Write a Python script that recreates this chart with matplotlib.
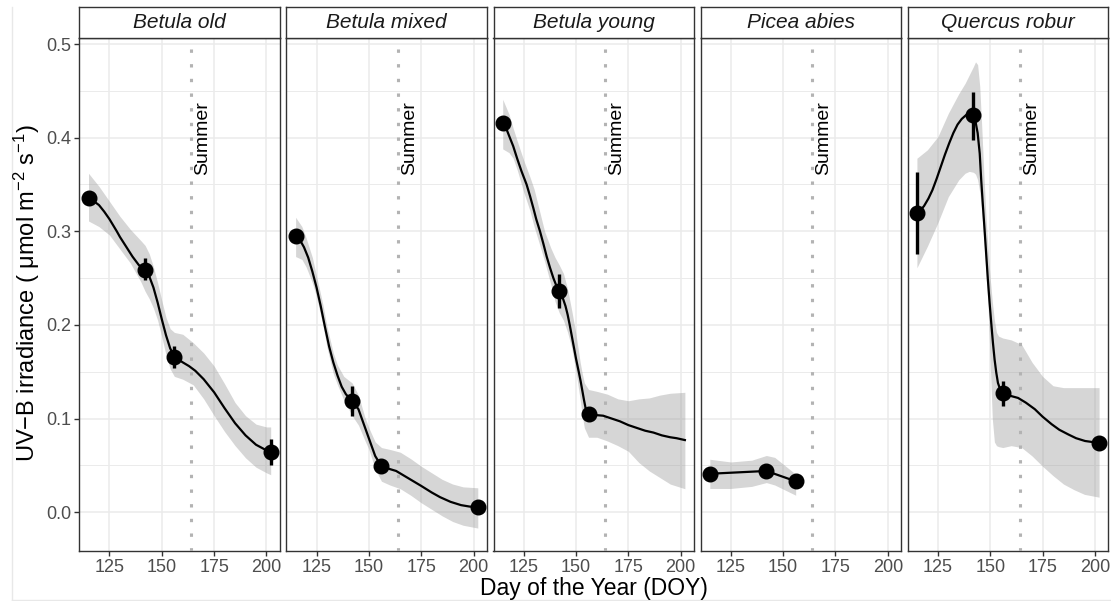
import matplotlib
matplotlib.use("Agg")
import matplotlib.pyplot as plt
from matplotlib.ticker import MultipleLocator
from matplotlib.lines import Line2D

#=================
# data
#=================
panel_names = ["Betula old", "Betula mixed", "Betula young", "Picea abies", "Quercus robur"]

# mean points + error bars
old_day = [115, 142, 156, 202]
old_val = [0.336, 0.259, 0.166, 0.064]
old_lo = [0.331, 0.248, 0.154, 0.050]
old_hi = [0.341, 0.271, 0.178, 0.078]

mixed_day = [115, 142, 156, 202]
mixed_val = [0.295, 0.119, 0.049, 0.005]
mixed_lo = [0.290, 0.103, 0.045, 0.001]
mixed_hi = [0.299, 0.135, 0.054, 0.009]

young_day = [115, 142, 156]
young_val = [0.416, 0.236, 0.105]
young_lo = [0.411, 0.218, 0.100]
young_hi = [0.421, 0.254, 0.110]

picea_day = [115, 142, 156]
picea_val = [0.041, 0.044, 0.033]
picea_lo = [0.036, 0.040, 0.027]
picea_hi = [0.045, 0.048, 0.039]

quercus_day = [115, 142, 156, 202]
quercus_val = [0.320, 0.424, 0.127, 0.074]
quercus_lo = [0.276, 0.398, 0.113, 0.070]
quercus_hi = [0.363, 0.449, 0.140, 0.079]

# smooth fit lines
old_fit_x = [115, 117, 120, 122.5, 125, 128.5, 130, 132, 134, 136, 139, 142, 144, 146,
             148, 150, 152, 154, 156, 158, 160, 163, 166, 170, 175, 180, 185, 190,
             195, 200, 202]
old_fit_y = [0.336, 0.333, 0.328, 0.321, 0.313, 0.300, 0.294, 0.287, 0.280, 0.273,
             0.264, 0.259, 0.252, 0.240, 0.224, 0.206, 0.189, 0.175, 0.166, 0.163,
             0.160, 0.156, 0.151, 0.142, 0.128, 0.111, 0.095, 0.082, 0.072, 0.066,
             0.064]

mixed_fit_x = [115, 117, 119, 121, 123, 125, 127, 129, 131, 133, 135, 137, 139, 141,
               142, 145, 149, 153, 156, 160, 163, 169, 175, 180, 184, 189, 194, 198,
               202]
mixed_fit_y = [0.295, 0.291, 0.283, 0.272, 0.257, 0.240, 0.220, 0.198, 0.177, 0.160,
               0.146, 0.134, 0.126, 0.121, 0.119, 0.110, 0.085, 0.060, 0.049, 0.046,
               0.044, 0.036, 0.028, 0.021, 0.016, 0.011, 0.0075, 0.006, 0.005]

young_fit_x = [115, 117, 118.4, 120, 122, 124, 126.4, 128, 129.6, 131, 132.8, 134.5,
               136, 137.6, 139.2, 140.6, 142, 143.5, 145, 146, 147, 148, 149, 150,
               151.3, 152.2, 153, 153.8, 154.5, 155.3, 156, 158, 163, 167, 171, 175,
               179, 183, 187, 191, 195, 198, 202]
young_fit_y = [0.416, 0.408, 0.400, 0.391, 0.377, 0.364, 0.350, 0.338, 0.325, 0.313,
               0.300, 0.286, 0.273, 0.261, 0.250, 0.242, 0.236, 0.230, 0.220, 0.211,
               0.200, 0.188, 0.176, 0.164, 0.150, 0.140, 0.130, 0.120, 0.112, 0.107,
               0.105, 0.104, 0.103, 0.100, 0.097, 0.093, 0.090, 0.087, 0.085, 0.082,
               0.080, 0.079, 0.077]

picea_fit_x = [115, 142, 156]
picea_fit_y = [0.041, 0.044, 0.033]

quercus_fit_x = [115, 116.5, 118.4, 120.5, 122.4, 124.4, 126.4, 128.4, 130.4, 132.4,
                 134.4, 136.4, 138.4, 140.2, 142, 143, 144, 145, 145.7, 146.5, 147.3,
                 148.1, 148.9, 149.7, 150.5, 151.3, 152.1, 152.9, 153.7, 154.8, 156,
                 158, 160, 163.3, 167, 171.3, 175, 179.3, 183, 187.3, 191, 195.3,
                 198.5, 202]
quercus_fit_y = [0.320, 0.322, 0.327, 0.335, 0.344, 0.356, 0.369, 0.382, 0.394, 0.405,
                 0.414, 0.420, 0.424, 0.426, 0.424, 0.417, 0.405, 0.383, 0.355, 0.328,
                 0.302, 0.275, 0.248, 0.224, 0.202, 0.181, 0.163, 0.149, 0.138, 0.131,
                 0.127, 0.125, 0.124, 0.122, 0.117, 0.110, 0.102, 0.094, 0.088, 0.083,
                 0.079, 0.076, 0.075, 0.074]

# confidence ribbons
old_band_x = [115, 120, 125, 130, 135, 140, 142, 144, 146, 148, 150, 152, 154, 156,
              160, 165, 170, 175, 180, 185, 190, 195, 200, 202]
old_band_lo = [0.311, 0.305, 0.296, 0.281, 0.266, 0.246, 0.236, 0.228, 0.218, 0.205,
               0.187, 0.168, 0.153, 0.145, 0.142, 0.136, 0.121, 0.103, 0.086, 0.071,
               0.058, 0.048, 0.042, 0.040]
old_band_hi = [0.362, 0.348, 0.332, 0.316, 0.302, 0.290, 0.285, 0.276, 0.262, 0.245,
               0.226, 0.208, 0.196, 0.192, 0.190, 0.181, 0.170, 0.156, 0.137, 0.117,
               0.103, 0.094, 0.091, 0.091]

mixed_band_x = [115, 118, 120, 123, 125, 128, 130, 133, 135, 138, 142, 145, 148, 150,
                153, 156, 160, 165, 170, 175, 180, 185, 190, 195, 202]
mixed_band_lo = [0.273, 0.270, 0.262, 0.245, 0.230, 0.200, 0.176, 0.148, 0.136, 0.120,
                 0.103, 0.093, 0.077, 0.067, 0.046, 0.033, 0.029, 0.025, 0.018, 0.010,
                 0.003, -0.004, -0.010, -0.014, -0.017]
mixed_band_hi = [0.315, 0.305, 0.293, 0.272, 0.252, 0.222, 0.198, 0.170, 0.157, 0.145,
                 0.138, 0.125, 0.102, 0.090, 0.075, 0.069, 0.067, 0.064, 0.057, 0.049,
                 0.042, 0.035, 0.030, 0.027, 0.026]

young_band_x = [115, 118, 120, 122, 125, 128, 130, 133, 135, 138, 140, 142, 144, 146,
                148, 150, 152, 153, 154, 156, 160, 165, 170, 175, 180, 185, 190, 195,
                202]
young_band_lo = [0.388, 0.384, 0.378, 0.365, 0.342, 0.322, 0.305, 0.283, 0.268, 0.243,
                 0.225, 0.213, 0.205, 0.192, 0.175, 0.150, 0.120, 0.103, 0.090, 0.080,
                 0.080, 0.076, 0.071, 0.065, 0.053, 0.044, 0.037, 0.030, 0.025]
young_band_hi = [0.441, 0.425, 0.410, 0.396, 0.376, 0.358, 0.345, 0.318, 0.300, 0.282,
                 0.272, 0.264, 0.255, 0.238, 0.215, 0.190, 0.160, 0.148, 0.138, 0.131,
                 0.129, 0.126, 0.121, 0.119, 0.121, 0.122, 0.125, 0.127, 0.128]

picea_band_x = [115, 125, 135, 142, 146, 156]
picea_band_lo = [0.0253, 0.0253, 0.0275, 0.0316, 0.0290, 0.0181]
picea_band_hi = [0.0565, 0.0536, 0.0555, 0.0605, 0.0585, 0.0405]

quercus_band_x = [115, 120, 125, 130, 135, 138, 140, 142, 143, 144, 145, 146, 147, 148,
                  149, 150, 151, 152, 153, 154, 156, 160, 165, 170, 175, 180, 185, 190,
                  195, 202]
quercus_band_lo = [0.261, 0.284, 0.309, 0.337, 0.355, 0.362, 0.364, 0.363, 0.361, 0.355,
                   0.342, 0.320, 0.290, 0.255, 0.220, 0.160, 0.100, 0.075, 0.071, 0.070,
                   0.069, 0.071, 0.069, 0.060, 0.049, 0.039, 0.030, 0.024, 0.019, 0.016]
quercus_band_hi = [0.378, 0.387, 0.401, 0.426, 0.447, 0.458, 0.467, 0.476, 0.481, 0.478,
                   0.455, 0.410, 0.360, 0.315, 0.280, 0.250, 0.225, 0.205, 0.192, 0.188,
                   0.186, 0.184, 0.179, 0.160, 0.145, 0.135, 0.133, 0.133, 0.133, 0.133]

summer_day = 164
x_ticks = [125, 150, 175, 200]
y_ticks = [0.0, 0.1, 0.2, 0.3, 0.4, 0.5]

panels = [
    (old_day, old_val, old_lo, old_hi, old_fit_x, old_fit_y, old_band_x, old_band_lo, old_band_hi),
    (mixed_day, mixed_val, mixed_lo, mixed_hi, mixed_fit_x, mixed_fit_y, mixed_band_x, mixed_band_lo, mixed_band_hi),
    (young_day, young_val, young_lo, young_hi, young_fit_x, young_fit_y, young_band_x, young_band_lo, young_band_hi),
    (picea_day, picea_val, picea_lo, picea_hi, picea_fit_x, picea_fit_y, picea_band_x, picea_band_lo, picea_band_hi),
    (quercus_day, quercus_val, quercus_lo, quercus_hi, quercus_fit_x, quercus_fit_y, quercus_band_x, quercus_band_lo, quercus_band_hi),
]

#=================
# style
#=================
plt.rcParams["font.family"] = ["Liberation Sans", "DejaVu Sans"]
plt.rcParams["mathtext.fontset"] = "custom"
plt.rcParams["mathtext.rm"] = "Liberation Sans"
plt.rcParams["mathtext.it"] = "Liberation Sans:italic"
plt.rcParams["mathtext.bf"] = "Liberation Sans:bold"

W, H = 1111, 601
dark = "#333333"
grid_col = "#EBEBEB"


def draw_panel(ax, data, first):
    day, val, lo, hi, fx, fy, bx, blo, bhi = data

    ax.fill_between(bx, blo, bhi, color="#999999", alpha=0.4, lw=0, zorder=2)
    ax.axvline(summer_day, color="#B3B3B3", lw=2.2, ls=(0, (1.1, 3.7)), zorder=3)
    ax.text(165.5, 0.4, "Summer", rotation=90, ha="left", va="center",
            fontsize=14, color="black", zorder=4)
    ax.plot(fx, fy, color="black", lw=1.6, zorder=4, solid_joinstyle="round")
    ax.vlines(day, lo, hi, color="black", lw=2.4, zorder=5)
    ax.plot(day, val, "o", ms=10.5, color="black", zorder=6)

    ax.set_xlim(110.6, 206.4)
    ax.set_ylim(-0.0415, 0.507)
    ax.set_xticks(x_ticks)
    ax.set_yticks(y_ticks)
    ax.set_yticklabels([f"{v:.1f}" for v in y_ticks])
    ax.yaxis.set_minor_locator(MultipleLocator(0.05))

    ax.grid(which="major", color=grid_col, lw=1.1)
    ax.grid(which="minor", axis="y", color=grid_col, lw=0.7)
    ax.set_axisbelow(True)

    ax.tick_params(which="major", length=3.5, width=1, color=dark,
                   labelcolor="#4D4D4D", labelsize=13, pad=2)
    ax.tick_params(which="minor", left=False)
    if not first:
        ax.tick_params(left=False, labelleft=False)

    for s in ax.spines.values():
        s.set_color(dark)
        s.set_linewidth(1)


#=================
# figure
#=================
fig = plt.figure(figsize=(W / 100, H / 100), dpi=100)

panel_w = 200.6
gap = 6.5
left0 = 79.3
top_px = 37.5
bottom_px = 551
strip_top = 7.3

for i, name in enumerate(panel_names):
    lx = left0 + i * (panel_w + gap)
    ax = fig.add_axes([lx / W, (H - bottom_px) / H, panel_w / W, (bottom_px - top_px) / H])
    draw_panel(ax, panels[i], i == 0)

    sax = fig.add_axes([lx / W, (H - top_px) / H, panel_w / W, (top_px - strip_top) / H])
    sax.set_xticks([])
    sax.set_yticks([])
    sax.set_facecolor("white")
    for s in sax.spines.values():
        s.set_color(dark)
        s.set_linewidth(1)
    sax.text(0.5, 0.5, name, ha="center", va="center", fontsize=15,
             style="italic", color="#1A1A1A", transform=sax.transAxes)

fig.text(593.5 / W, 1 - 588 / H, "Day of the Year (DOY)", ha="center", va="center",
         fontsize=16.5, color="black")
fig.text(27 / W, 1 - 293 / H, "UV\u2212B irradiance ( μmol m$^{-2}$ s$^{-1}$)",
         ha="center", va="center", rotation=90, fontsize=17, color="black")

# faint outer frame seen on the left and bottom of the original
fig.add_artist(Line2D([11.5 / W, 11.5 / W], [1 - 599.5 / H, 1 - 7 / H],
                      transform=fig.transFigure, color="#E8E8E8", lw=1))
fig.add_artist(Line2D([11.5 / W, 1], [1 - 599.5 / H, 1 - 599.5 / H],
                      transform=fig.transFigure, color="#E8E8E8", lw=1))

fig.savefig("out.png", dpi=100)
